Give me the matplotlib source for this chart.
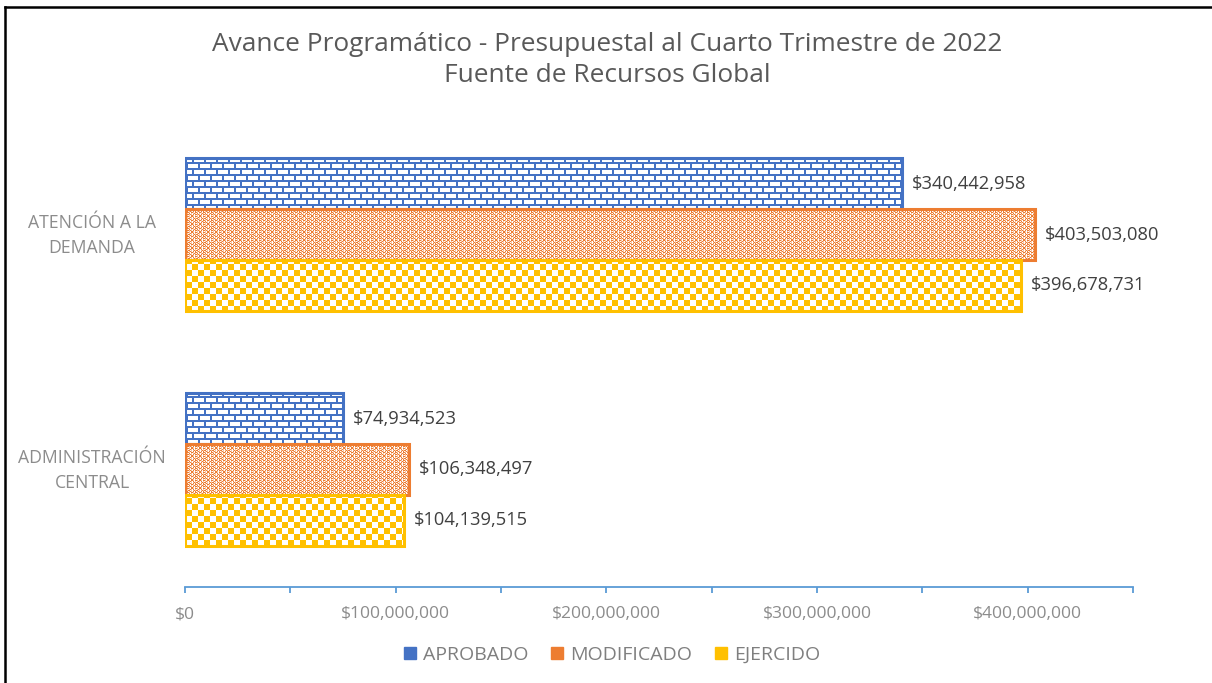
import numpy as np
import matplotlib
matplotlib.use("Agg")
import matplotlib.pyplot as plt
import matplotlib.patches as patches
from matplotlib.lines import Line2D
from matplotlib.ticker import MultipleLocator, FuncFormatter
import matplotlib.transforms as mtransforms

# --- datos ---
categorias = ['ADMINISTRACIÓN\nCENTRAL', 'ATENCIÓN A LA\nDEMANDA']
series = ['APROBADO', 'MODIFICADO', 'EJERCIDO']
aprobado = [74934523, 340442958]
modificado = [106348497, 403503080]
ejercido = [104139515, 396678731]

valores = [aprobado, modificado, ejercido]
colores = ['#4472C4', '#ED7D31', '#FFC000']

plt.rcParams['font.family'] = ['Open Sans', 'DejaVu Sans']

W, H = 1212, 683
fig = plt.figure(figsize=(W / 100, H / 100), dpi=100)
x0, x1 = 185, 1133
y0, y1 = 117, 587
ax = fig.add_axes([x0 / W, 1 - y1 / H, (x1 - x0) / W, (y1 - y0) / H])
ax.set_zorder(3)           # ejes por encima de las texturas
ax.patch.set_visible(False)

XMAX = 450e6
ax.set_xlim(0, XMAX)
ax.set_ylim(0, 2)


def hex2rgb(h):
    h = h.lstrip('#')
    return [int(h[i:i + 2], 16) / 255 for i in (0, 2, 4)]


def textura(nombre):
    # mosaico pequeño que se repite (1 = color, 0 = blanco)
    if nombre == 'ladrillo':
        t = np.zeros((12, 12))
        t[0:2, :] = 1
        t[6:8, :] = 1
        t[2:6, 0:2] = 1
        t[8:12, 6:8] = 1
    elif nombre == 'ajedrez':
        i, j = np.indices((12, 12))
        t = (((i // 6) + (j // 6)) % 2 == 0).astype(float)
    else:
        filas = ["X..XX..X",
                 ".X....X.",
                 "..X.XX..",
                 ".X.X..X.",
                 "X..XX..X",
                 "..X..X..",
                 ".X.XX.X.",
                 "X......X"]
        t = np.array([[1.0 if c == 'X' else 0.45 * (k % 2) for k, c in enumerate(f)] for f in filas])
    return t


def imagen_textura(nombre, color):
    t = textura(nombre)
    ph, pw = H, W
    reps = (ph // t.shape[0] + 1, pw // t.shape[1] + 1)
    m = np.tile(t, reps)[:ph, :pw]
    c = np.array(hex2rgb(color))
    img = np.ones((ph, pw, 3)) * (1 - m[..., None]) + c * m[..., None]
    return img


patrones = ['ladrillo', 'tejido', 'ajedrez']
alto = 0.217
desplaz = [alto, 0, -alto]
posiciones = np.array([0.5, 1.5])

for k in range(3):
    img = imagen_textura(patrones[k], colores[k])
    barras = ax.barh(posiciones + desplaz[k], valores[k], height=alto,
                     facecolor='none', edgecolor=colores[k], linewidth=2.2, zorder=3)
    for b, v in zip(barras, valores[k]):
        # textura a escala 1:1 de píxeles, recortada a la barra
        im = fig.figimage(img, xo=0, yo=0, zorder=2)
        im.set_clip_path(b)
        ax.annotate(f"${v:,.0f}", (v, b.get_y() + b.get_height() / 2),
                    xytext=(7, 0), textcoords='offset points', va='center',
                    ha='left', fontsize=13.2, color='#404040')

ax.set_xlim(0, XMAX)
ax.set_ylim(0, 2)

# ejes
for s in ['top', 'right', 'left']:
    ax.spines[s].set_visible(False)
ax.spines['bottom'].set_color('#5B9BD5')
ax.spines['bottom'].set_linewidth(1.3)
ax.xaxis.set_major_locator(MultipleLocator(50e6))
ax.xaxis.set_major_formatter(FuncFormatter(
    lambda v, p: f"${v:,.0f}" if round(v / 50e6) % 2 == 0 and v < 449e6 else ''))
ax.tick_params(axis='x', colors='#5B9BD5', length=4, width=1.3, labelcolor='#8C8C8C',
               labelsize=12.6, pad=10)

ax.set_yticks([])
trans = mtransforms.blended_transform_factory(fig.transFigure, ax.transData)
for pos, cat in zip(posiciones, categorias):
    ax.text(92 / W, pos, cat, transform=trans + mtransforms.ScaledTranslation(0, -1 / 100, fig.dpi_scale_trans),
            ha='center', va='center', multialignment='center', linespacing=1.5,
            fontsize=12.7, color='#8C8C8C')

# título
fig.text(607 / W, 1 - 60 / H, 'Avance Programático - Presupuestal al Cuarto Trimestre de 2022\n'
         'Fuente de Recursos Global', ha='center', va='center', fontsize=18.9,
         color='#595959', linespacing=1.35)

# leyenda
manijas = [patches.Patch(facecolor=c, edgecolor=c) for c in colores]
fig.legend(manijas, series, loc='center', bbox_to_anchor=(612 / W, 1 - 655 / H),
           ncol=3, frameon=False, fontsize=14, handlelength=0.6, handleheight=0.6,
           handletextpad=0.35, columnspacing=1.2, labelcolor='#7F7F7F')

# marco
fig.add_artist(Line2D([5 / W, 5 / W], [0, 1 - 7 / H], color='black', linewidth=1.8))
fig.add_artist(Line2D([5 / W, 1], [1 - 7 / H, 1 - 7 / H], color='black', linewidth=1.8))

fig.savefig('out.png', dpi=100)
